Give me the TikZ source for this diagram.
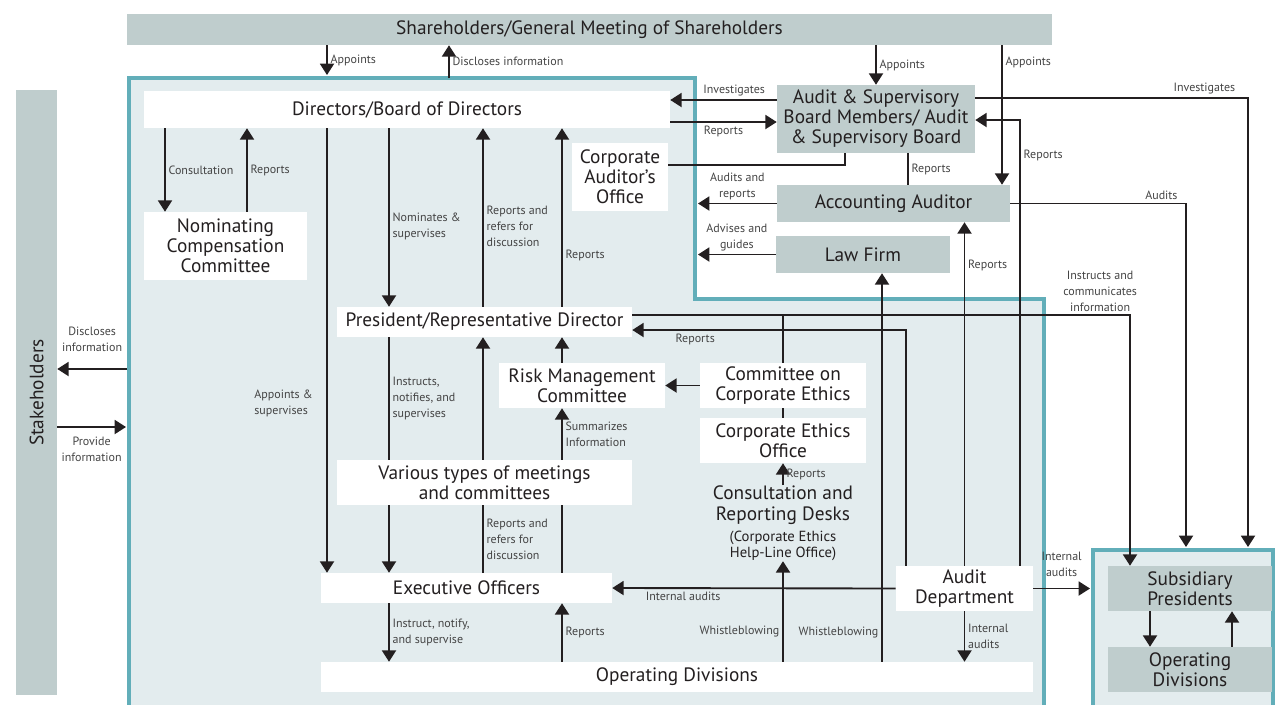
\documentclass[tikz,border=0pt]{standalone}
\usepackage{fontspec}
\setmainfont{PT Sans}
\usepackage{xcolor}
\usepackage{tikz}
\usetikzlibrary{arrows.meta,positioning}

\definecolor{boxgray}{HTML}{BFCDCD}
\definecolor{paleteal}{HTML}{E3ECEE}
\definecolor{rimteal}{HTML}{62AEB9}
\definecolor{inkdark}{HTML}{231F20}
\definecolor{labgray}{HTML}{444444}

\begin{document}
\begin{tikzpicture}[x=0.75pt,y=-0.75pt,font=\fontsize{14.5}{15}\selectfont,
  box/.style={fill=white,align=center,inner sep=0pt,text=inkdark},
  gbox/.style={box,fill=boxgray},
  arr/.style={-{Triangle[length=8.5pt,width=10.5pt]},line width=1.4pt,draw=inkdark},
  ln/.style={line width=1.4pt,draw=inkdark},
  lbl/.style={font=\fontsize{9}{12}\selectfont,text=labgray,align=left,inner sep=2pt},
  rim/.style={draw=rimteal,line width=2.8pt}]
\useasboundingbox (0,0) rectangle (1275,704);

% company and subsidiary areas
\fill[paleteal] (129,78) -- (695,78) -- (695,299) -- (1044,299) -- (1044,710) -- (129,710) -- cycle;
\fill[paleteal] (1093,550) rectangle (1273,710);
\draw[rim] (129,710) -- (129,78) -- (695,78) -- (695,299) -- (1044,299) -- (1044,710);
\draw[rim] (1093,710) -- (1093,550) -- (1273,550) -- (1273,710);

% nodes
\node[gbox,minimum width=693.75pt,minimum height=23.25pt] (share) at (589.5,29.5) {Shareholders/General Meeting of Shareholders};
\node[gbox,minimum width=30.75pt,minimum height=453.75pt] (stake) at (36.5,392.5) {\rotatebox{90}{Stakeholders}};
\node[box,minimum width=394.5pt,minimum height=27.75pt] (board) at (407,109.5) {Directors/Board of Directors};
\node[box,minimum width=122.25pt,minimum height=51pt] (nomcom) at (225.5,246) {Nominating\\Compensation\\Committee};
\node[box,minimum width=72pt,minimum height=51pt] (caoff) at (620,177) {Corporate\\Auditor’s\\Office};
\node[gbox,minimum width=148.5pt,minimum height=51pt] (asb) at (876,119) {Audit \& Supervisory\\Board Members/ Audit\\\& Supervisory Board};
\node[gbox,minimum width=174.75pt,minimum height=27.75pt] (accaud) at (893.5,203.5) {Accounting Auditor};
\node[gbox,minimum width=130.5pt,minimum height=27.75pt] (lawfirm) at (863,254.5) {Law Firm};
\node[box,minimum width=221.25pt,minimum height=22.5pt] (pres) at (484.5,322) {President/Representative Director};
\node[box,minimum width=124.5pt,minimum height=33.75pt] (risk) at (582,385.5) {Risk Management\\Committee};
\node[box,minimum width=124.5pt,minimum height=33.75pt] (ethcom) at (783,385.5) {Committee on\\Corporate Ethics};
\node[box,minimum width=124.5pt,minimum height=33.75pt] (ethoff) at (783,440.5) {Corporate Ethics\\Office};
\node[box,fill=none,anchor=north,font=\fontsize{14.5}{16}\selectfont] (desks) at (783,485) {Consultation and\\Reporting Desks\\{\fontsize{11}{12}\selectfont(Corporate Ethics}\\[-4pt]{\fontsize{11}{12}\selectfont Help-Line Office)}};
\node[box,minimum width=221.25pt,minimum height=33.75pt] (meet) at (484.5,482.5) {Various types of meetings\\and committees};
\node[box,minimum width=218.25pt,minimum height=22.5pt] (exec) at (466.5,588) {Executive Officers};
\node[box,minimum width=102.75pt,minimum height=33.75pt] (auddept) at (964.5,588.5) {Audit\\Department};
\node[box,minimum width=534pt,minimum height=22.5pt] (opdiv) at (677,677) {Operating Divisions};
\node[gbox,minimum width=123pt,minimum height=33.75pt] (subpres) at (1190,588.5) {Subsidiary\\Presidents};
\node[gbox,minimum width=123pt,minimum height=33.75pt] (subop) at (1190,669.5) {Operating\\Divisions};

% lanes
\coordinate (laneA) at (327,75);
\coordinate (laneB) at (449,78);
\coordinate (laneC) at (1002,0);
\coordinate (co) at (698,0);
\coordinate (subtop) at (0,547);
\coordinate (yInv) at (0,100);
\coordinate (yRep) at (0,122);
\coordinate (inv) at (1248,98);
\coordinate (aud) at (1186,0);
\coordinate (rep1) at (1020,120);
\coordinate (rep2) at (906,330);
\coordinate (instr) at (1130,315);
\coordinate (cao) at (845,165);
\coordinate (asbrep) at (908,0);
\coordinate (whis) at (882,0);
\coordinate (subin) at (1090,0);
\coordinate (skout) at (127,369);
\coordinate (skin) at (126,427);
\coordinate (kA) at (165,0);
\coordinate (kB) at (247,0);
\coordinate (kC) at (389,0);
\coordinate (kD) at (483,0);
\coordinate (kE) at (562,0);
\coordinate (sA) at (1150,0);
\coordinate (sB) at (1232,0);

% shareholders and audit side
\draw[arr] (share.south -| laneA) -- node[lbl,right]{Appoints} (laneA);
\draw[arr] (laneB) -- node[lbl,right]{Discloses information} (share.south -| laneB);
\draw[arr] (share.south -| asb.north) -- node[lbl,right]{Appoints} (asb.north);
\draw[arr] (share.south -| laneC) -- node[lbl,right,pos=0.12]{Appoints} (accaud.north -| laneC);
\draw[arr] (asb.west |- yInv) -- node[lbl,above,pos=0.4]{Investigates} (board.east |- yInv);
\draw[arr] (board.east |- yRep) -- node[lbl,below]{Reports} (asb.west |- yRep);
\draw[ln] (caoff.east |- cao) -| (asb.south -| cao);
\draw[ln] (asb.south -| asbrep) -- node[lbl,right]{Reports} (accaud.north -| asbrep);
\draw[arr] (accaud.west) -- node[lbl,above,align=center]{Audits and\\reports} (accaud.west -| co);
\draw[arr] (lawfirm.west) -- node[lbl,above,align=center]{Advises and\\guides} (lawfirm.west -| co);
\draw[arr] (asb.east |- inv) -| node[lbl,above,pos=0.42]{Investigates} (subtop -| inv);
\draw[arr] (accaud.east) -| node[lbl,above,pos=0.43]{Audits} (subtop -| aud);
\draw[arr] (auddept.north -| rep1) |- node[lbl,right,pos=0.46]{Reports} (asb.east |- rep1);
\draw[arr] (auddept.north) -- node[lbl,right,pos=0.875]{Reports} (accaud.south -| auddept.north);
\draw[arr] (auddept.north -| rep2) |- node[lbl,below,pos=0.885]{Reports} (pres.east |- rep2);
\draw[arr] (pres.east |- instr) -| node[lbl,above,pos=0.47,align=center]{Instructs and\\communicates\\information} (subpres.north -| instr);

% ethics
\draw[ln] (ethcom.north) -- (ethcom.north |- instr);
\draw[ln] (ethcom) -- (ethoff);
\draw[arr] (ethcom) -- (risk);
\draw[arr] (desks.north) -- node[lbl,right]{Reports} (ethoff.south);
\draw[arr] (opdiv.north -| desks) -- node[lbl,left,pos=0.3]{Whistleblowing} (desks.south);
\draw[arr] (opdiv.north -| whis) -- node[lbl,left,pos=0.075]{Whistleblowing} (lawfirm.south -| whis);

% audit department
\draw[arr] (auddept.west) -- node[lbl,below,pos=0.75]{Internal audits} (exec.east);
\draw[arr] (auddept.south) -- node[lbl,right]{Internal\\audits} (opdiv.north -| auddept.south);
\draw[arr] (auddept.east) -- node[lbl,above=6pt,align=center]{Internal\\audits} (auddept.east -| subin);

% stakeholders
\draw[arr] (skout) -- node[lbl,above=10pt,align=center]{Discloses\\information} (stake.east |- skout);
\draw[arr] (stake.east |- skin) -- node[lbl,below=5pt,align=center]{Provide\\information} (skin);

% board and executives
\draw[arr] (board.south -| kA) -- node[lbl,right]{Consultation} (nomcom.north -| kA);
\draw[arr] (nomcom.north -| kB) -- node[lbl,right]{Reports} (board.south -| kB);
\draw[arr] (board.south -| laneA) -- node[lbl,left,pos=0.62,xshift=-8pt]{Appoints \&\\supervises} (exec.north -| laneA);
\draw[arr] (board.south -| kC) -- node[lbl,right,pos=0.55]{Nominates \&\\supervises} (pres.north -| kC);
\draw[arr] (pres.north -| kD) -- node[lbl,right,pos=0.45]{Reports and\\refers for\\discussion} (board.south -| kD);
\draw[arr] (pres.north -| kE) -- node[lbl,right,pos=0.29]{Reports} (board.south -| kE);
\draw[ln] (pres.south -| kC) -- node[lbl,right]{Instructs,\\notifies, and\\supervises} (meet.north -| kC);
\draw[arr] (meet.south -| kC) -- (exec.north -| kC);
\draw[arr] (meet.north -| kD) -- (pres.south -| kD);
\draw[ln] (exec.north -| kD) -- node[lbl,right]{Reports and\\refers for\\discussion} (meet.south -| kD);
\draw[ln] (exec.north -| kE) -- (meet.south -| kE);
\draw[arr] (meet.north -| kE) -- node[lbl,right]{Summarizes\\Information} (risk.south -| kE);
\draw[arr] (risk.north -| kE) -- (pres.south -| kE);
\draw[arr] (exec.south -| kC) -- node[lbl,right]{Instruct, notify,\\and supervise} (opdiv.north -| kC);
\draw[arr] (opdiv.north -| kE) -- node[lbl,right]{Reports} (exec.south -| kE);

% subsidiaries
\draw[arr] (subpres.south -| sA) -- (subop.north -| sA);
\draw[arr] (subop.north -| sB) -- (subpres.south -| sB);
\end{tikzpicture}
\end{document}
